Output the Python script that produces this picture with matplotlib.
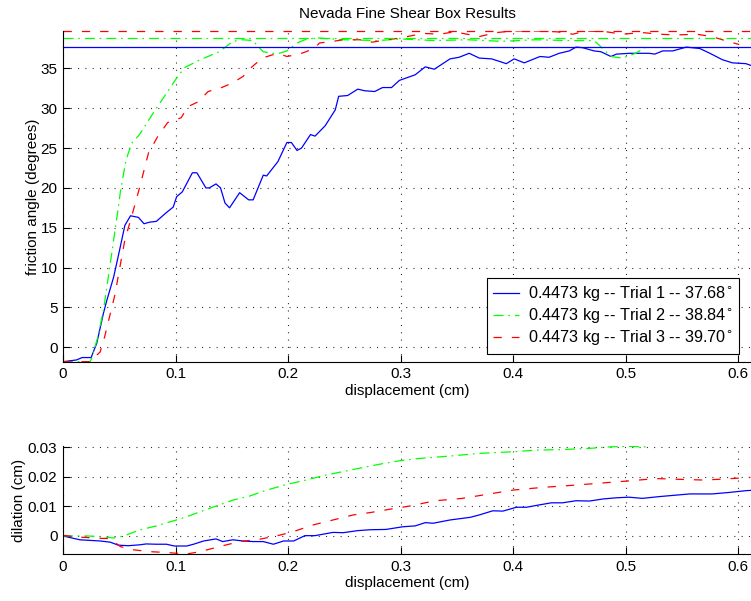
import matplotlib
matplotlib.use("Agg")
import matplotlib.pyplot as plt
from matplotlib.ticker import FuncFormatter

plt.rcParams['font.family'] = ['Liberation Sans', 'DejaVu Sans']
plt.rcParams['font.size'] = 11
plt.rcParams['lines.scale_dashes'] = False

# ---------------- data ----------------
title = "Nevada Fine Shear Box Results"
mass_kg = "0.4473"
trial_names = ["Trial 1", "Trial 2", "Trial 3"]
peak_angles = [37.68, 38.84, 39.70]

# friction angle (degrees) vs displacement (cm)
disp1 = [0.000, 0.012, 0.017, 0.025, 0.030, 0.036, 0.039, 0.045, 0.050, 0.055,
         0.060, 0.067, 0.072, 0.077, 0.083, 0.091, 0.098, 0.101, 0.106, 0.115,
         0.119, 0.127, 0.130, 0.136, 0.140, 0.144, 0.148, 0.157, 0.165, 0.169,
         0.178, 0.181, 0.191, 0.199, 0.203, 0.208, 0.212, 0.220, 0.224, 0.233,
         0.242, 0.245, 0.253, 0.262, 0.268, 0.277, 0.284, 0.292, 0.299, 0.313,
         0.322, 0.330, 0.344, 0.352, 0.361, 0.370, 0.381, 0.394, 0.401, 0.410,
         0.424, 0.432, 0.441, 0.450, 0.456, 0.462, 0.472, 0.478, 0.487, 0.492,
         0.504, 0.521, 0.526, 0.533, 0.542, 0.554, 0.566, 0.575, 0.586, 0.595,
         0.607, 0.611]
angle1 = [-1.82, -1.6, -1.3, -1.3, 0.5, 4.3, 5.9, 8.8, 12.0, 15.3,
          16.5, 16.3, 15.5, 15.7, 15.8, 16.8, 17.6, 18.9, 19.5, 21.9,
          21.9, 20.0, 20.0, 20.5, 20.0, 18.1, 17.5, 19.4, 18.5, 18.5,
          21.6, 21.5, 23.3, 25.7, 25.7, 24.7, 25.0, 26.7, 26.5, 27.8,
          29.8, 31.5, 31.6, 32.4, 32.2, 32.1, 32.6, 32.6, 33.5, 34.2,
          35.2, 34.9, 36.2, 36.4, 36.9, 36.3, 36.2, 35.6, 36.2, 35.7,
          36.5, 36.4, 36.9, 37.2, 37.68, 37.6, 37.2, 37.1, 36.5, 36.8,
          36.9, 36.9, 36.8, 37.2, 37.2, 37.68, 37.5, 36.9, 36.1, 35.7,
          35.6, 35.4]

disp2 = [0.000, 0.024, 0.0255, 0.031, 0.036, 0.042, 0.048, 0.051, 0.056, 0.061,
         0.068, 0.082, 0.093, 0.101, 0.108, 0.122, 0.139, 0.151, 0.160, 0.169,
         0.173, 0.178, 0.190, 0.199, 0.208, 0.215, 0.225, 0.25, 0.28, 0.30,
         0.33, 0.36, 0.39, 0.42, 0.45, 0.472, 0.479, 0.487, 0.497, 0.509,
         0.521]
angle2 = [-1.82, -1.82, -1.4, 1.3, 4.7, 10.5, 16.4, 19.5, 23.5, 25.6,
          26.7, 29.8, 32.1, 33.8, 35.1, 36.1, 37.1, 38.4, 38.6, 38.5,
          37.8, 37.1, 36.8, 37.2, 38.2, 38.6, 38.84, 38.6, 38.5, 38.7,
          38.5, 38.6, 38.4, 38.6, 38.5, 38.5, 37.6, 36.5, 36.3, 36.9,
          37.9]

disp3 = [0.000, 0.024, 0.0255, 0.033, 0.037, 0.046, 0.055, 0.061, 0.068, 0.076,
         0.084, 0.093, 0.098, 0.105, 0.111, 0.120, 0.129, 0.141, 0.151, 0.160,
         0.168, 0.177, 0.186, 0.193, 0.199, 0.210, 0.216, 0.224, 0.228, 0.240,
         0.249, 0.264, 0.275, 0.288, 0.299, 0.306, 0.320, 0.335, 0.348, 0.359,
         0.370, 0.385, 0.400, 0.421, 0.439, 0.453, 0.465, 0.483, 0.497, 0.515,
         0.530, 0.545, 0.563, 0.577, 0.586, 0.601]
angle3 = [-1.82, -1.82, -1.6, -0.6, 1.3, 6.5, 13.5, 16.4, 20.0, 24.4,
          26.4, 28.2, 28.5, 28.8, 30.2, 30.8, 32.1, 32.6, 33.2, 34.0,
          35.2, 36.3, 36.7, 36.8, 36.5, 36.8, 37.1, 37.6, 38.2, 38.4,
          38.6, 38.6, 38.3, 38.6, 38.8, 39.0, 39.4, 39.3, 39.6, 39.3,
          39.0, 39.5, 39.7, 39.7, 39.6, 39.3, 39.7, 39.6, 39.3, 39.5,
          39.3, 39.2, 39.3, 39.0, 38.6, 38.0]

# dilation (cm) vs displacement (cm)
ddisp1 = [0, 0.015, 0.033, 0.042, 0.049, 0.058, 0.068, 0.074, 0.083, 0.092,
          0.099, 0.110, 0.116, 0.125, 0.136, 0.142, 0.151, 0.160, 0.169, 0.178,
          0.187, 0.196, 0.205, 0.215, 0.224, 0.240, 0.249, 0.262, 0.273, 0.287,
          0.302, 0.313, 0.322, 0.329, 0.344, 0.362, 0.370, 0.382, 0.391, 0.403,
          0.412, 0.422, 0.434, 0.444, 0.456, 0.468, 0.480, 0.492, 0.503, 0.515,
          0.530, 0.545, 0.557, 0.577, 0.592, 0.607, 0.611]
dil1 = [0, -0.0013, -0.0017, -0.0021, -0.0031, -0.0033, -0.0030, -0.0027, -0.0028, -0.0028,
        -0.0034, -0.0034, -0.0028, -0.0017, -0.0010, -0.0019, -0.0013, -0.0017, -0.0019, -0.0019,
        -0.0028, -0.0017, -0.0017, 0.0001, 0.0001, 0.0012, 0.0011, 0.0018, 0.0021, 0.0022,
        0.0031, 0.0034, 0.0045, 0.0043, 0.0054, 0.0063, 0.0071, 0.0085, 0.0084, 0.0097,
        0.0097, 0.0104, 0.0112, 0.0112, 0.0119, 0.0118, 0.0125, 0.0129, 0.0131, 0.0127,
        0.0133, 0.0138, 0.0142, 0.0142, 0.0147, 0.0153, 0.0154]

ddisp2 = [0, 0.021, 0.033, 0.045, 0.054, 0.068, 0.083, 0.099, 0.110, 0.122,
          0.136, 0.151, 0.166, 0.181, 0.199, 0.216, 0.234, 0.252, 0.270, 0.285,
          0.299, 0.317, 0.344, 0.370, 0.397, 0.421, 0.444, 0.468, 0.486, 0.501,
          0.518]
dil2 = [0, 0, -0.0002, -0.0007, 0, 0.0020, 0.0034, 0.0052, 0.0065, 0.0082,
        0.0101, 0.0121, 0.0135, 0.0155, 0.0174, 0.0189, 0.0206, 0.0220, 0.0234, 0.0245,
        0.0254, 0.0262, 0.0270, 0.0279, 0.0284, 0.0290, 0.0292, 0.0296, 0.0301, 0.0303,
        0.0301]

ddisp3 = [0, 0.015, 0.033, 0.042, 0.051, 0.063, 0.077, 0.092, 0.110, 0.122,
          0.139, 0.157, 0.175, 0.193, 0.205, 0.222, 0.240, 0.258, 0.273, 0.290,
          0.308, 0.331, 0.355, 0.379, 0.400, 0.426, 0.456, 0.486, 0.506, 0.527,
          0.551, 0.569, 0.586, 0.607, 0.611]
dil3 = [0.0002, -0.0004, -0.0008, -0.0009, -0.0036, -0.0047, -0.0053, -0.0056, -0.0061, -0.0053,
        -0.0036, -0.0019, -0.0011, 0.0003, 0.0015, 0.0037, 0.0054, 0.0071, 0.0079, 0.0090,
        0.0101, 0.0119, 0.0127, 0.0142, 0.0155, 0.0164, 0.0172, 0.0181, 0.0187, 0.0194,
        0.0191, 0.0189, 0.0192, 0.0197, 0.0198]

xticks = [0, 0.1, 0.2, 0.3, 0.4, 0.5, 0.6]
angle_ticks = [0, 5, 10, 15, 20, 25, 30, 35]
dil_ticks = [0, 0.01, 0.02, 0.03]

# ---------------- styles ----------------
colors = ['#0000ff', '#00ff00', '#ff0000']
styles = ['-', (0, (7.2, 3.4, 1.2, 3.6)), (0, (6.0, 7.2))]
lw = 0.9

W, H = 751, 601
fig = plt.figure(figsize=(W / 100, H / 100), dpi=100)
ax1 = fig.add_axes([63 / W, 1 - 361.7 / H, 1 - 63 / W, (361.7 - 31) / H])
ax2 = fig.add_axes([63 / W, 1 - 554 / H, 1 - 63 / W, (554 - 446) / H])

fmt = FuncFormatter(lambda v, p: f"{v:g}")
grid_kw = dict(color='0.15', linewidth=0.8, linestyle=(0, (0.75, 4.5)))

top_series = [(disp1, angle1), (disp2, angle2), (disp3, angle3)]
bot_series = [(ddisp1, dil1), (ddisp2, dil2), (ddisp3, dil3)]

handles = []
for i, (x, y) in enumerate(top_series):
    label = f"{mass_kg} kg -- {trial_names[i]} -- {peak_angles[i]:.2f}$^{{\\circ}}$"
    h, = ax1.plot(x, y, color=colors[i], linestyle=styles[i], linewidth=lw, label=label)
    handles.append(h)
for i, pk in enumerate(peak_angles):
    ax1.axhline(pk, color=colors[i], linestyle=styles[i], linewidth=lw, clip_on=False)

for i, (x, y) in enumerate(bot_series):
    ax2.plot(x, y, color=colors[i], linestyle=styles[i], linewidth=lw)

ax1.set_xlim(0, 0.6115)
ax1.set_ylim(-1.82, 39.70)
ax2.set_xlim(0, 0.6115)
ax2.set_ylim(-0.0061, 0.0304)

ax1.set_xticks(xticks)
ax1.set_yticks(angle_ticks)
ax2.set_xticks(xticks)
ax2.set_yticks(dil_ticks)

for ax in (ax1, ax2):
    ax.xaxis.set_major_formatter(fmt)
    ax.yaxis.set_major_formatter(fmt)
    ax.grid(True, **grid_kw)
    ax.set_axisbelow(True)
    for s in ('top', 'right'):
        ax.spines[s].set_visible(False)
    for s in ('left', 'bottom'):
        ax.spines[s].set_linewidth(0.8)
    ax.tick_params(direction='in', length=5, width=0.8, pad=4, labelsize=11,
                   top=False, right=False)

ax1.set_title(title, fontsize=11, pad=9)
ax1.set_xlabel("displacement (cm)", labelpad=2)
ax1.set_ylabel("friction angle (degrees)", labelpad=0)
ax2.set_xlabel("displacement (cm)", labelpad=2)
ax2.set_ylabel("dilation (cm)", labelpad=1)

leg = ax1.legend(handles=handles, loc='lower right', bbox_to_anchor=(0.9826, 0.024),
                 borderaxespad=0, frameon=True, fancybox=False, framealpha=1,
                 edgecolor='black', handlelength=1.6, handletextpad=0.55,
                 borderpad=0.4, labelspacing=0.18, fontsize=11.7)
leg.get_frame().set_linewidth(0.8)

fig.savefig("out.png", dpi=100)
